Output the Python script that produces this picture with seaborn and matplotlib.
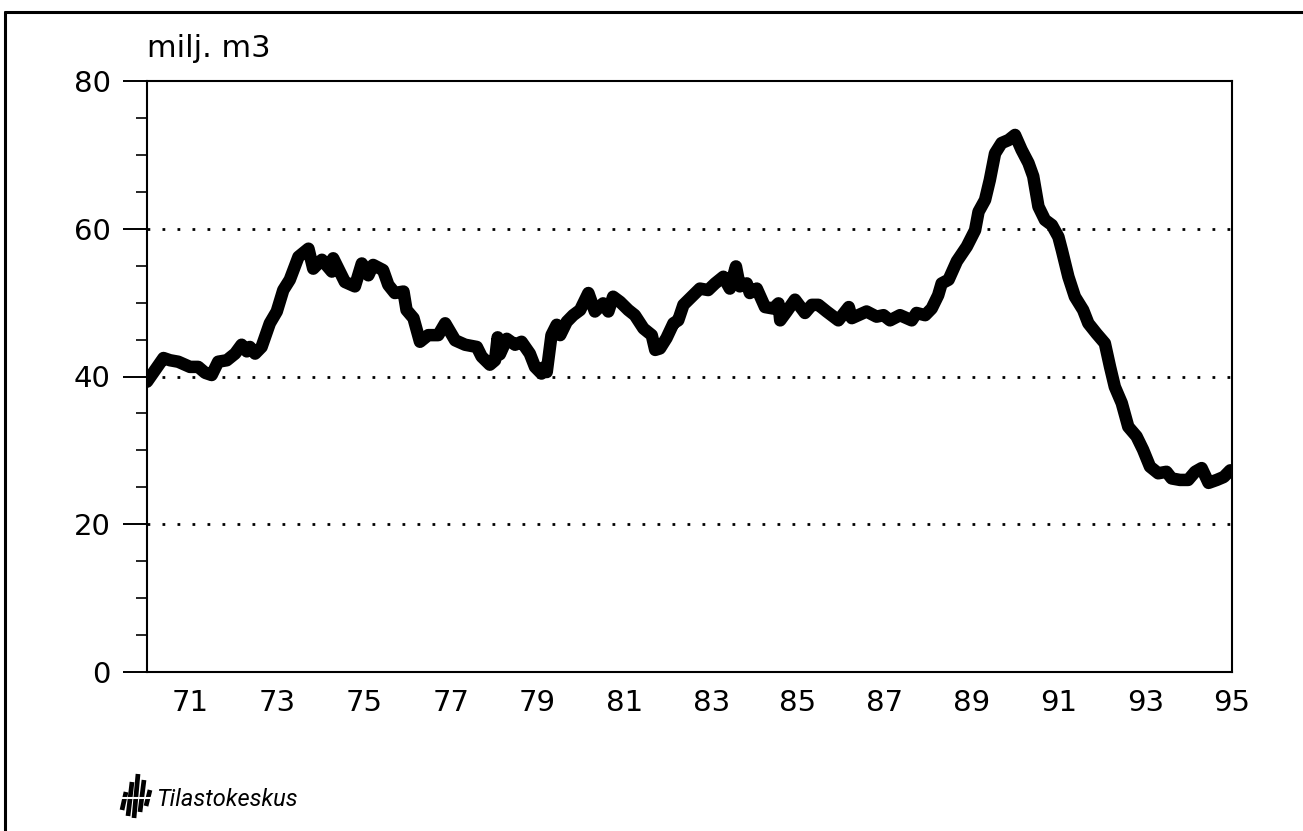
import matplotlib
matplotlib.use("Agg")
import matplotlib.pyplot as plt
from matplotlib.lines import Line2D
from matplotlib.ticker import MultipleLocator, FixedLocator
import seaborn as sns
import pandas as pd

# ---- data ----
years = [1970.00, 1970.38, 1970.53, 1970.72, 1970.99, 1971.18, 1971.34, 1971.49, 1971.64, 1971.84,
         1972.03, 1972.18, 1972.30, 1972.37, 1972.49, 1972.64, 1972.83, 1972.99, 1973.14, 1973.29,
         1973.49, 1973.72, 1973.83, 1974.03, 1974.26, 1974.29, 1974.56, 1974.79, 1974.95, 1975.10,
         1975.21, 1975.44, 1975.56, 1975.71, 1975.91, 1975.98, 1976.14, 1976.29, 1976.48, 1976.71,
         1976.87, 1977.10, 1977.33, 1977.60, 1977.71, 1977.90, 1978.02, 1978.08, 1978.13, 1978.29,
         1978.48, 1978.63, 1978.82, 1978.94, 1979.09, 1979.13, 1979.21, 1979.32, 1979.44, 1979.52,
         1979.67, 1979.82, 1979.98, 1980.17, 1980.32, 1980.51, 1980.63, 1980.74, 1980.90, 1981.09,
         1981.24, 1981.44, 1981.63, 1981.71, 1981.82, 1981.97, 1982.13, 1982.24, 1982.36, 1982.55,
         1982.74, 1982.93, 1983.09, 1983.28, 1983.43, 1983.57, 1983.66, 1983.82, 1983.89, 1984.05,
         1984.24, 1984.43, 1984.55, 1984.59, 1984.74, 1984.93, 1985.16, 1985.32, 1985.47, 1985.66,
         1985.93, 1986.17, 1986.24, 1986.58, 1986.81, 1986.97, 1987.12, 1987.35, 1987.62, 1987.73,
         1987.93, 1988.08, 1988.23, 1988.31, 1988.47, 1988.66, 1988.89, 1989.08, 1989.16, 1989.31,
         1989.42, 1989.54, 1989.69, 1989.85, 1990.00, 1990.15, 1990.31, 1990.42, 1990.54, 1990.69,
         1990.85, 1991.00, 1991.08, 1991.23, 1991.38, 1991.57, 1991.69, 1991.88, 1992.07, 1992.19,
         1992.30, 1992.46, 1992.61, 1992.80, 1992.95, 1993.11, 1993.30, 1993.49, 1993.61, 1993.80,
         1993.99, 1994.15, 1994.30, 1994.46, 1994.65, 1994.81, 1994.96]

values = [39.3, 42.5, 42.2, 42.0, 41.3, 41.3, 40.5, 40.2, 42.0, 42.2,
          43.1, 44.3, 43.4, 44.0, 43.1, 44.0, 47.2, 48.8, 51.7, 53.1,
          56.2, 57.3, 54.6, 55.8, 54.2, 56.0, 52.8, 52.2, 55.3, 53.7,
          55.1, 54.4, 52.4, 51.3, 51.5, 49.0, 47.9, 44.7, 45.6, 45.6,
          47.2, 44.9, 44.3, 44.0, 42.7, 41.6, 42.2, 45.3, 43.0, 45.1,
          44.3, 44.7, 43.1, 41.3, 40.4, 41.2, 40.6, 45.6, 47.0, 45.6,
          47.4, 48.3, 49.0, 51.3, 48.8, 49.9, 48.8, 50.8, 50.1, 49.0,
          48.3, 46.5, 45.6, 43.6, 43.8, 45.2, 47.2, 47.6, 49.7, 50.8,
          51.9, 51.7, 52.6, 53.5, 51.9, 54.9, 52.2, 52.6, 51.3, 51.9,
          49.4, 49.2, 49.9, 47.6, 48.8, 50.4, 48.6, 49.7, 49.7, 48.8,
          47.6, 49.4, 47.9, 48.8, 48.1, 48.3, 47.6, 48.3, 47.6, 48.6,
          48.3, 49.2, 51.0, 52.6, 53.1, 55.6, 57.6, 59.8, 62.3, 63.9,
          66.6, 70.2, 71.6, 72.0, 72.7, 70.7, 68.9, 67.1, 63.0, 61.2,
          60.5, 58.9, 57.1, 53.5, 50.8, 49.0, 47.2, 45.8, 44.5, 41.3,
          38.6, 36.4, 33.2, 31.9, 30.1, 27.8, 26.9, 27.1, 26.2, 26.0,
          26.0, 27.1, 27.6, 25.6, 26.0, 26.4, 27.3]

x_ticks = [1971, 1973, 1975, 1977, 1979, 1981, 1983, 1985, 1987, 1989, 1991, 1993, 1995]
x_labels = ["71", "73", "75", "77", "79", "81", "83", "85", "87", "89", "91", "93", "95"]
y_ticks = [0, 20, 40, 60, 80]
y_label = "milj. m3"
source = "Tilastokeskus"

df = pd.DataFrame({"year": years, "value": values})

# ---- figure ----
sns.set_style("white")
plt.rcParams["font.family"] = ["DejaVu Sans"]
plt.rcParams["text.color"] = "black"

W, H = 1303, 831
fig = plt.figure(figsize=(W / 100, H / 100), dpi=100)
ax = fig.add_axes([147 / W, 1 - 672 / H, (1232 - 147) / W, (672 - 81) / H])

sns.lineplot(data=df, x="year", y="value", ax=ax, color="black",
             linewidth=9.0, solid_joinstyle="round", zorder=3)

ax.set_xlim(1970.0, 1995.0)
ax.set_ylim(0, 80)
ax.set_xlabel("")
ax.set_ylabel("")

ax.xaxis.set_major_locator(FixedLocator(x_ticks))
ax.set_xticklabels(x_labels)
ax.yaxis.set_major_locator(FixedLocator(y_ticks))
ax.yaxis.set_minor_locator(MultipleLocator(5))

ax.tick_params(axis="x", length=0, pad=12, labelsize=21, colors="black")
ax.tick_params(axis="y", which="major", direction="out", length=17, width=1.4,
               pad=9, labelsize=21, colors="black", left=True)
ax.tick_params(axis="y", which="minor", direction="out", length=8, width=1.4, left=True)

for s in ax.spines.values():
    s.set_visible(True)
    s.set_color("black")
    s.set_linewidth(1.5)

ax.yaxis.grid(True, which="major", color="black", linestyle=(0, (1, 4.4)),
              linewidth=2.0, zorder=1)
ax.xaxis.grid(False)
ax.set_axisbelow(True)
glines = ax.yaxis.get_gridlines()
glines[0].set_visible(False)
glines[-1].set_visible(False)

# unit label above the axis
fig.text(147 / W, 1 - 57 / H, y_label, fontsize=22, color="black", ha="left", va="baseline")

# outer frame lines (top and left)
fig.add_artist(Line2D([5 / W, 1.0], [1 - 12 / H, 1 - 12 / H], color="black", linewidth=2.2))
fig.add_artist(Line2D([5 / W, 5 / W], [0.0, 1 - 12 / H], color="black", linewidth=2.2))

# source logo: slanted bars + italic name
bar_specs = [(124, 792, 810), (130, 782, 816), (136, 774, 818), (142, 780, 812), (148, 790, 806)]
for bx, y0, y1 in bar_specs:
    fig.add_artist(Line2D([(bx - 2) / W, (bx + 2) / W], [1 - y1 / H, 1 - y0 / H],
                          color="black", linewidth=3.4, solid_capstyle="butt"))
fig.add_artist(Line2D([118 / W, 154 / W], [1 - 798 / H, 1 - 798 / H], color="white", linewidth=1.5))
fig.text(156 / W, 1 - 806 / H, source, fontsize=17, style="italic", color="black",
         family=["Roboto", "DejaVu Sans"], ha="left", va="baseline")

fig.savefig("out.png", dpi=100)
